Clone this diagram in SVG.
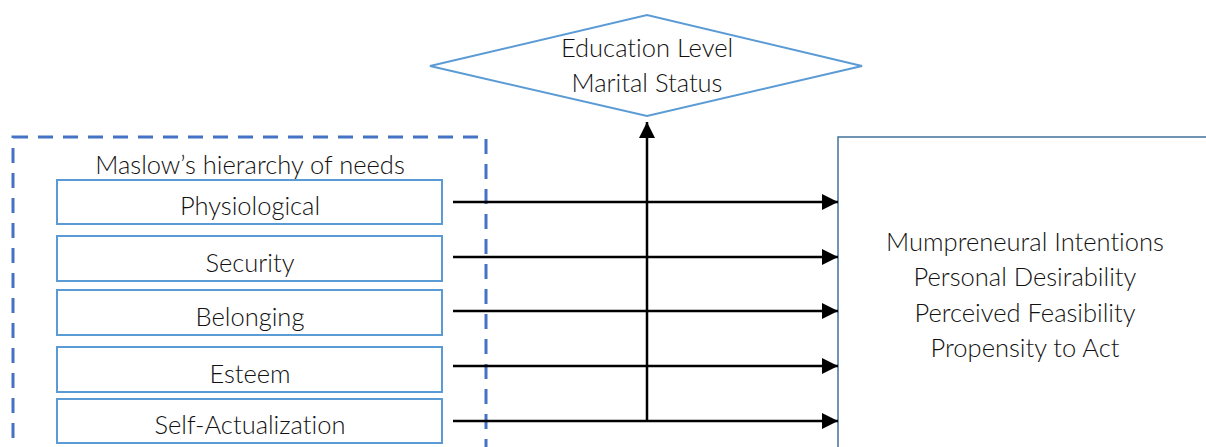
<svg xmlns="http://www.w3.org/2000/svg" width="1206" height="447" viewBox="0 0 1206 447">
<defs>
<style>
text{font-family:Lato,"Open Sans","Liberation Sans",sans-serif;font-size:25.5px;font-weight:300;fill:#111;text-anchor:middle;font-variant-ligatures:none;font-feature-settings:"liga" 0,"dlig" 0}
.need{fill:#fff;stroke:#5B9BD5;stroke-width:2}
.conn{stroke:#000;stroke-width:2.5;fill:none}
</style>
<marker id="ah2" viewBox="0 0 10 10" refX="10" refY="5" markerWidth="6.5" markerHeight="6.5" orient="auto">
<path d="M0,0L10,5L0,10z" fill="#000"/>
</marker>
</defs>
<rect width="1206" height="447" fill="#fff"/>
<g id="outcome">
<rect x="838" y="137" width="400" height="340" fill="#fff" stroke="#41719C" stroke-width="1.5"/>
<text x="1025" y="251">Mumpreneural Intentions</text>
<text x="1025" y="286">Personal Desirability</text>
<text x="1025" y="322">Perceived Feasibility</text>
<text x="1025" y="357">Propensity to Act</text>
</g>
<g id="maslow">
<rect x="13" y="137" width="473" height="340" fill="none" stroke="#4472C4" stroke-width="3" stroke-dasharray="15,10"/>
<text x="250" y="174">Maslow’s hierarchy of needs</text>
</g>
<g id="physiological"><rect class="need" x="57" y="180" width="385" height="44"/><text x="250" y="215">Physiological</text></g>
<g id="security"><rect class="need" x="57" y="236" width="385" height="45"/><text x="250" y="272">Security</text></g>
<g id="belonging"><rect class="need" x="57" y="290" width="385" height="45"/><text x="250" y="326">Belonging</text></g>
<g id="esteem"><rect class="need" x="57" y="347" width="385" height="45"/><text x="250" y="383">Esteem</text></g>
<g id="selfact"><rect class="need" x="57" y="399" width="385" height="44"/><text x="250" y="434">Self-Actualization</text></g>
<g id="demographics">
<polygon points="430,66 647,15 862,66 647,116" fill="#fff" stroke="#5B9BD5" stroke-width="2"/>
<text x="647" y="57">Education Level</text>
<text x="647" y="92">Marital Status</text>
</g>
<g id="connectors">
<path class="conn" d="M453,202H838" marker-end="url(#ah2)"/>
<path class="conn" d="M453,257H838" marker-end="url(#ah2)"/>
<path class="conn" d="M453,311H838" marker-end="url(#ah2)"/>
<path class="conn" d="M453,366H838" marker-end="url(#ah2)"/>
<path class="conn" d="M453,421H838" marker-end="url(#ah2)"/>
<path class="conn" d="M647,421V122" marker-end="url(#ah2)"/>
</g>
</svg>
